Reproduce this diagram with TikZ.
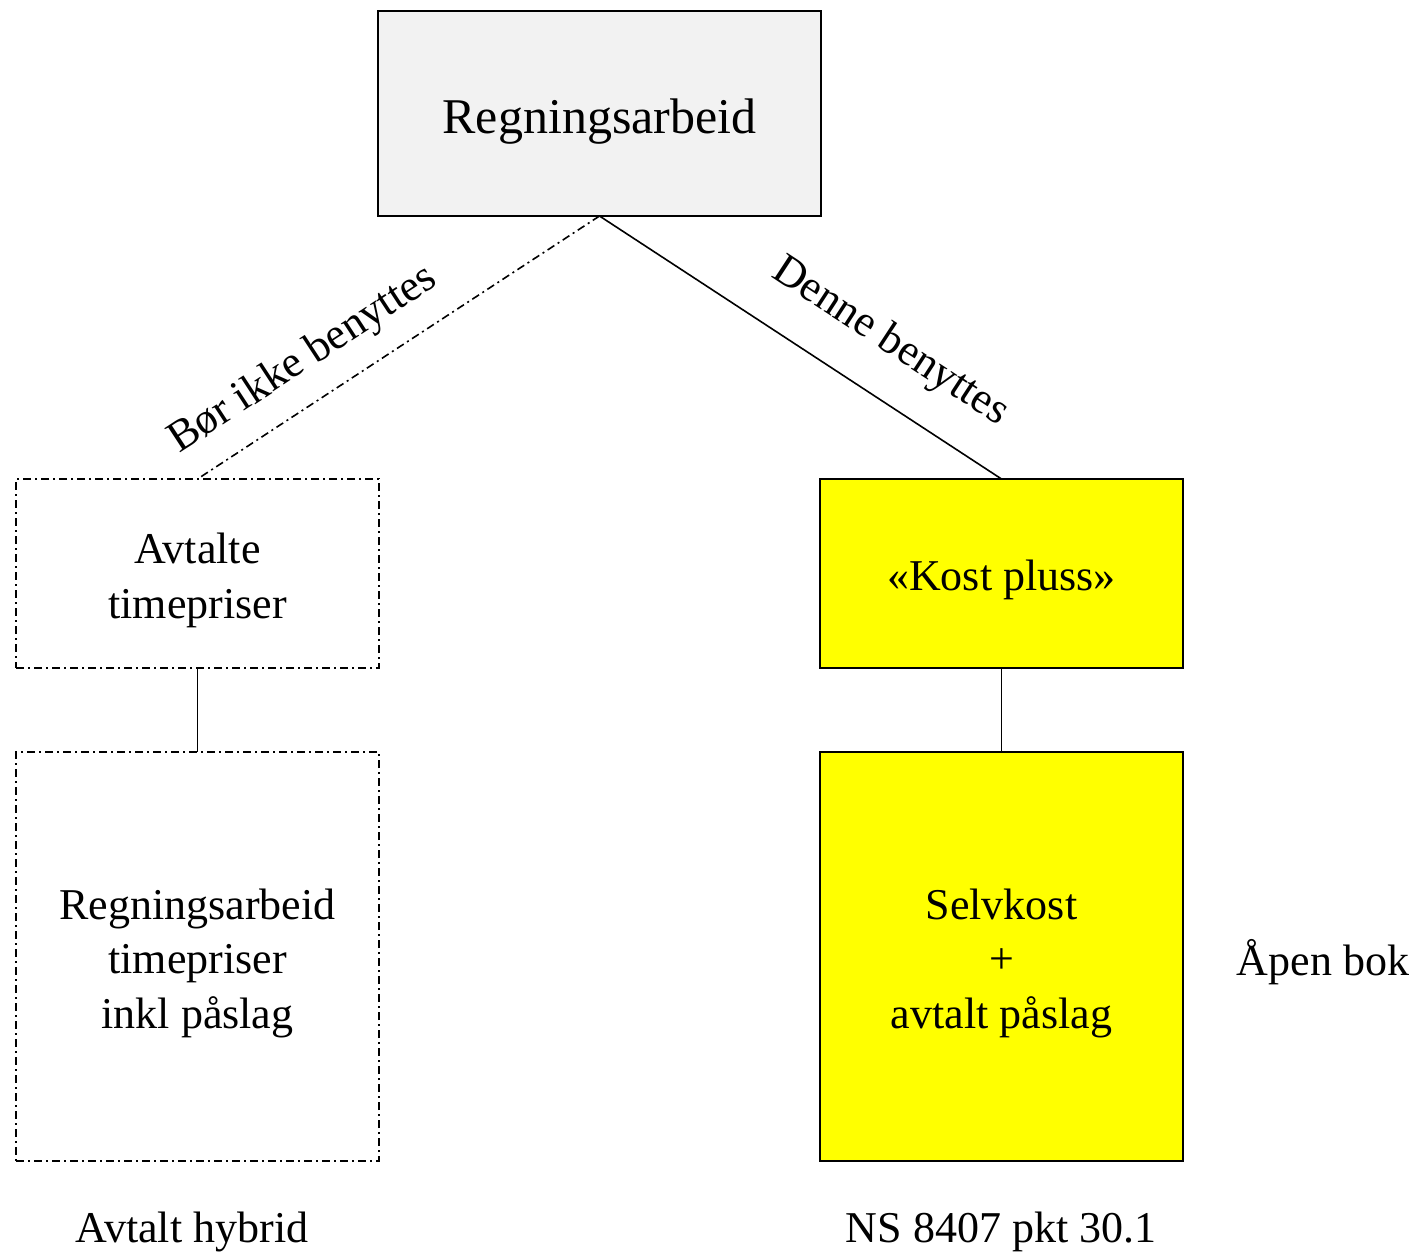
\documentclass[tikz,border=0pt]{standalone}
\usepackage{fontspec}
\setmainfont{Liberation Serif}
\usepackage{tikz}
\usetikzlibrary{positioning}

\definecolor{topgray}{HTML}{F2F2F2}
\definecolor{kostyellow}{HTML}{FFFF00}
\newcommand{\boxstrut}{\rule{0pt}{1em}}

\begin{document}
\begin{tikzpicture}[
    x=0.5pt, y=-0.5pt,
    box/.style={draw, line width=1pt, inner sep=0pt, outer sep=0pt, align=center,
        font=\fontsize{22}{27.25}\selectfont},
    dashdot/.style={line width=1pt, dash pattern=on 4pt off 2pt on 1pt off 2pt},
    link/.style={line width=0.8pt},
    linklabel/.style={font=\fontsize{22}{27.25}\selectfont, sloped},
    caption/.style={font=\fontsize{22}{27.25}\selectfont}
]
\useasboundingbox (0,0) rectangle (1416,1251);

% Top box
\node[box, fill=topgray, minimum width=221.5pt, minimum height=102.5pt,
      font=\fontsize{25}{30}\selectfont] (regn) at (599.5,113.5) {\boxstrut Regningsarbeid};

% Left branch (hybrid)
\node[box, dashdot, minimum width=181.5pt, minimum height=94.5pt] (avtalte) at (197.5,573.5) {\boxstrut Avtalte\\timepriser};
\node[box, dashdot, minimum width=181.5pt, minimum height=204.5pt] (hybrid) at (197.5,956.5) {\boxstrut Regningsarbeid\\timepriser\\inkl påslag};

% Right branch (kost pluss)
\node[box, fill=kostyellow, minimum width=181.5pt, minimum height=94.5pt] (kost) at (1001.5,573.5) {\boxstrut «Kost pluss»};
\node[box, fill=kostyellow, minimum width=181.5pt, minimum height=204.5pt] (selvkost) at (1001.5,956.5) {\boxstrut Selvkost\\+\\avtalt påslag};

% Connectors
\draw[link, dash pattern=on 4pt off 2pt on 1pt off 2pt] (regn.south) -- node[linklabel, pos=0.68, above=7pt] {Bør ikke benyttes} (avtalte.north);
\draw[link] (regn.south) -- node[linklabel, pos=0.65, above=13pt] {Denne benyttes} (kost.north);
\draw[link] (avtalte.south) -- (hybrid.north);
\draw[link] (kost.south) -- (selvkost.north);

% Captions
\node[caption] (apen) at (1323,962) {Åpen bok};
\node[caption] (avtalt) at (192,1232) {Avtalt hybrid};
\node[caption] (ns) at (1001,1232) {NS 8407 pkt 30.1};
\end{tikzpicture}
\end{document}
